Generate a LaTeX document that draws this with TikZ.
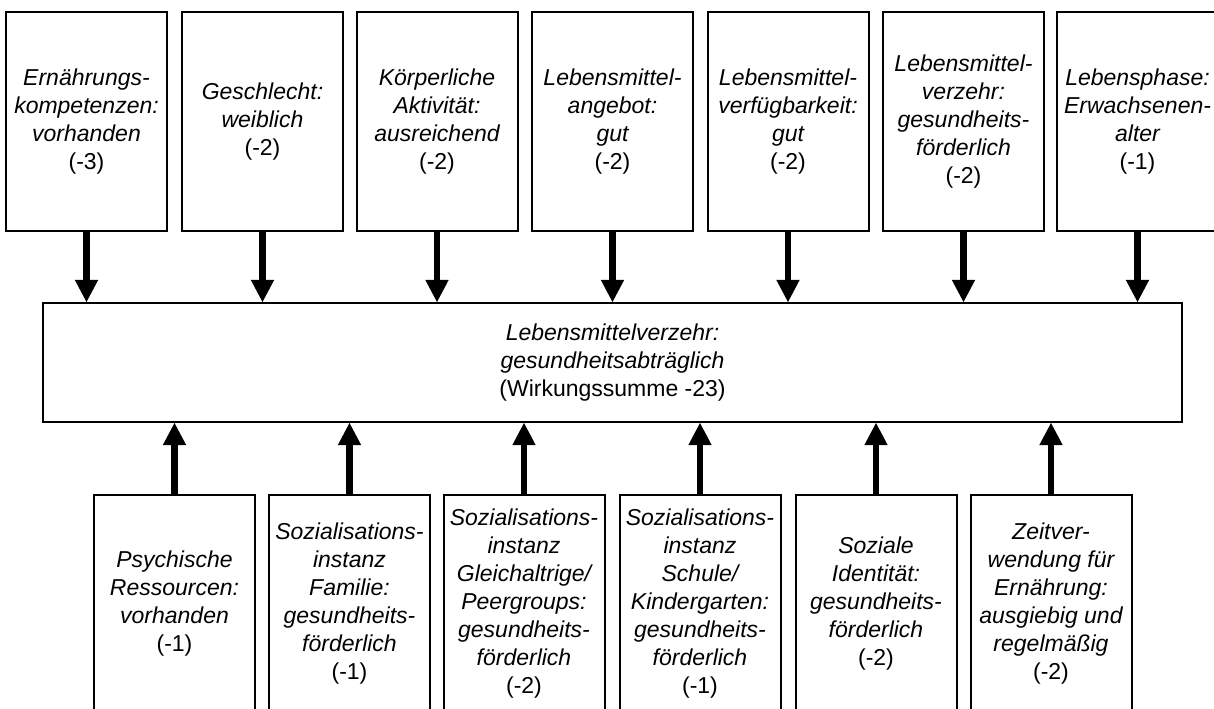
\documentclass[tikz,border=0pt]{standalone}
\usepackage{fontspec}
\setmainfont{Liberation Sans}
\usepackage{tikz}
\usetikzlibrary{arrows.meta,positioning}
\tikzset{
    % Kasten fuer die einzelnen Einflussfaktoren
    faktorbox/.style={
        draw=black,
        line width=1.5pt,
        fill=white,
        minimum width=120.75pt,
        minimum height=164.25pt,
        inner sep=0pt,
        align=center,
        font=\fontsize{17.25}{21}\selectfont\itshape
    },
    % zentraler Kasten
    hauptbox/.style={
        faktorbox,
        minimum width=854.25pt,
        minimum height=89.25pt
    },
    % dicker schwarzer Wirkungspfeil
    wirkpfeil/.style={
        line width=5pt,
        black,
        -{Triangle[length=16.5pt, width=17.5pt, line width=0pt]}
    }
}

\begin{document}
\begin{tikzpicture}[x=0.75pt,y=-0.75pt]
	\useasboundingbox (0,0) rectangle (1214,709);
	\clip (0,0) rectangle (1214,709);
	
	% ===================== zentraler Kasten =====================
	\node[hauptbox] (haupt) at (612.5,362.5) {Lebensmittelverzehr:\\gesundheitsabträglich\\\textup{(Wirkungssumme -23)}};
	
	% ===================== obere Reihe =====================
	\node[faktorbox] (o1) at (86.5,121.5) {Ernährungs-\\kompetenzen:\\vorhanden\\\textup{(-3)}};
	\node[faktorbox] (o2) at (262.5,121.5) {Geschlecht:\\weiblich\\\textup{(-2)}};
	\node[faktorbox] (o3) at (437,121.5) {Körperliche\\Aktivität:\\ausreichend\\\textup{(-2)}};
	\node[faktorbox] (o4) at (612.5,121.5) {Lebensmittel-\\angebot:\\gut\\\textup{(-2)}};
	\node[faktorbox] (o5) at (788,121.5) {Lebensmittel-\\verfügbarkeit:\\gut\\\textup{(-2)}};
	\node[faktorbox] (o6) at (963.5,121.5) {Lebensmittel-\\verzehr:\\gesundheits-\\förderlich\\\textup{(-2)}};
	\node[faktorbox] (o7) at (1137.5,121.5) {Lebensphase:\\Erwachsenen-\\alter\\\textup{(-1)}};
	
	% ===================== untere Reihe =====================
	\node[faktorbox] (u1) at (174.5,604) {Psychische\\Ressourcen:\\vorhanden\\\textup{(-1)}};
	\node[faktorbox] (u2) at (349.5,604) {Sozialisations-\\instanz\\Familie:\\gesundheits-\\förderlich\\\textup{(-1)}};
	\node[faktorbox] (u3) at (524,604) {Sozialisations-\\instanz\\Gleichaltrige/\\Peergroups:\\gesundheits-\\förderlich\\\textup{(-2)}};
	\node[faktorbox] (u4) at (700,604) {Sozialisations-\\instanz\\Schule/\\Kindergarten:\\gesundheits-\\förderlich\\\textup{(-1)}};
	\node[faktorbox] (u5) at (876,604) {Soziale\\Identität:\\gesundheits-\\förderlich\\\textup{(-2)}};
	\node[faktorbox] (u6) at (1051,604) {Zeitver-\\wendung für\\Ernährung:\\ausgiebig und\\regelmäßig\\\textup{(-2)}};
	
	% Pfeile von oben
	\draw[wirkpfeil] (o1.south) -- (o1.south |- haupt.north);
	\draw[wirkpfeil] (o2.south) -- (o2.south |- haupt.north);
	\draw[wirkpfeil] (o3.south) -- (o3.south |- haupt.north);
	\draw[wirkpfeil] (o4.south) -- (o4.south |- haupt.north);
	\draw[wirkpfeil] (o5.south) -- (o5.south |- haupt.north);
	\draw[wirkpfeil] (o6.south) -- (o6.south |- haupt.north);
	\draw[wirkpfeil] (o7.south) -- (o7.south |- haupt.north);
	
	% Pfeile von unten
	\draw[wirkpfeil] (u1.north) -- (u1.north |- haupt.south);
	\draw[wirkpfeil] (u2.north) -- (u2.north |- haupt.south);
	\draw[wirkpfeil] (u3.north) -- (u3.north |- haupt.south);
	\draw[wirkpfeil] (u4.north) -- (u4.north |- haupt.south);
	\draw[wirkpfeil] (u5.north) -- (u5.north |- haupt.south);
	\draw[wirkpfeil] (u6.north) -- (u6.north |- haupt.south);
\end{tikzpicture}
\end{document}
